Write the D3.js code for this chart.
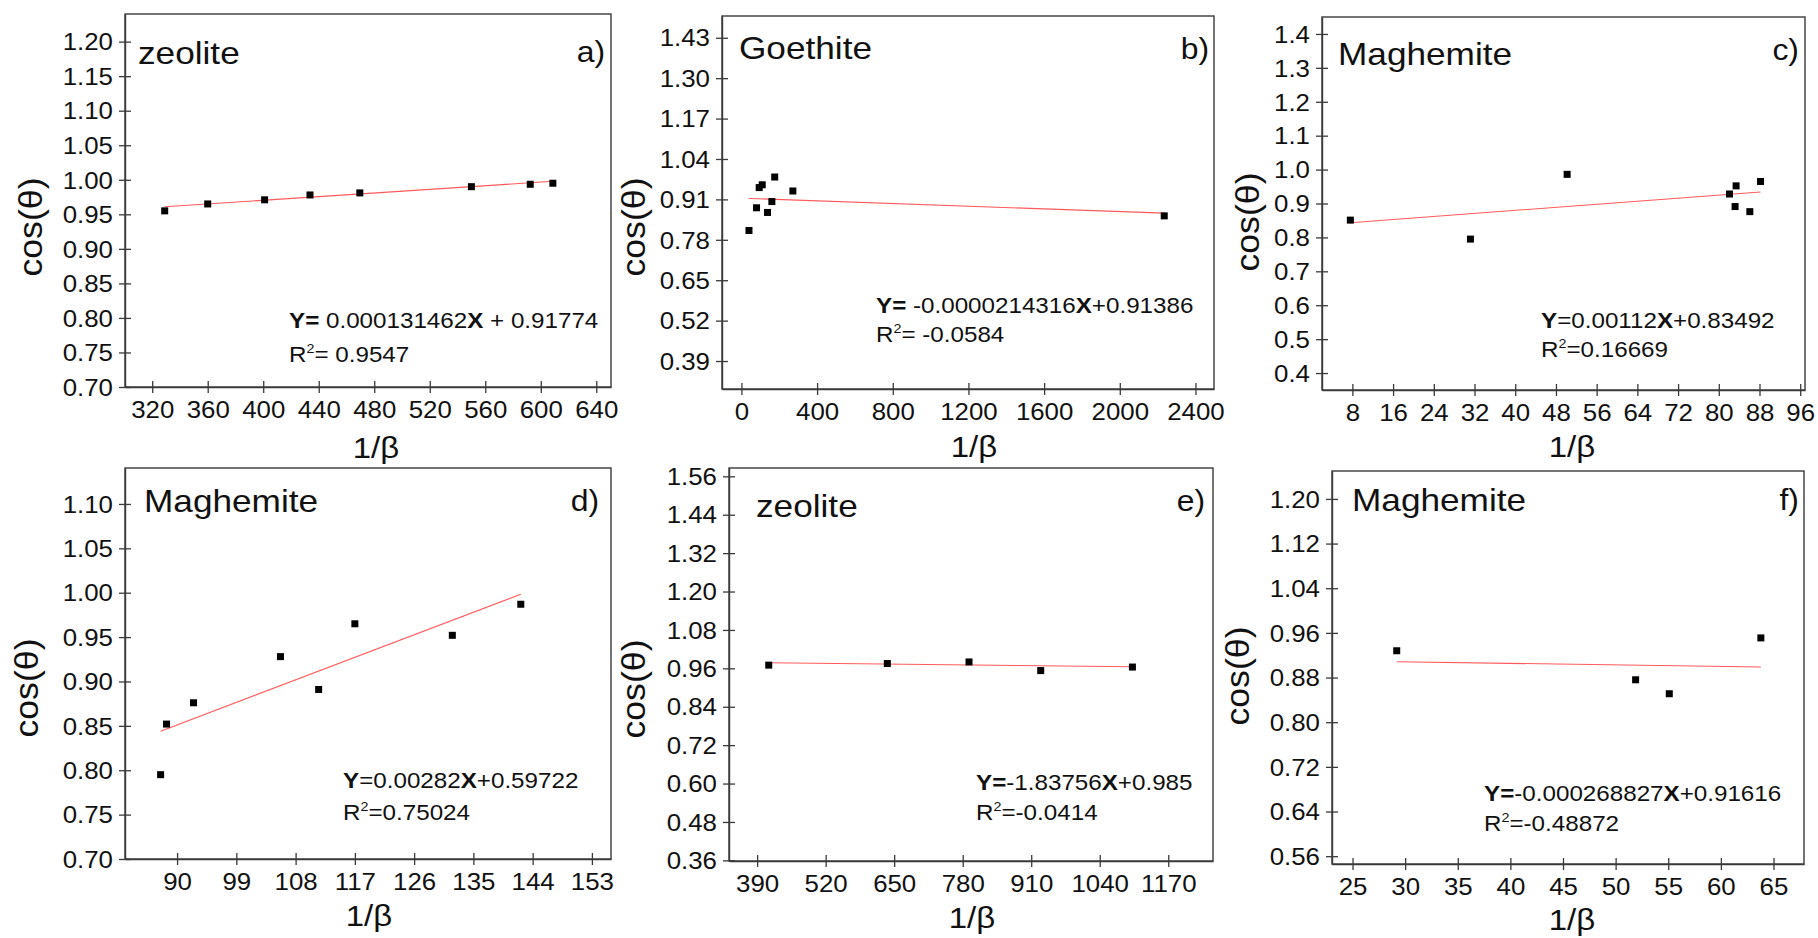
<!DOCTYPE html>
<html><head><meta charset="utf-8">
<script src="https://cdn.jsdelivr.net/npm/d3@7"></script>
<style>
body{margin:0;background:#fff;}
svg{display:block;background:#fff;}
</style>
</head><body>
<svg id="chart" width="1818" height="938"></svg>
<script>
// ---------------- DATA ----------------
const panelTags = ["a)", "b)", "c)", "d)", "e)", "f)"];
const materials = ["zeolite", "Goethite", "Maghemite", "Maghemite", "zeolite", "Maghemite"];

const xA = [329, 360, 401, 433.7, 469.6, 550, 592.4, 608.7];
const yA = [0.955, 0.965, 0.971, 0.978, 0.981, 0.990, 0.9935, 0.995];

const xB = [40, 80, 94, 110, 138, 161, 176, 272, 2235];
const yB = [0.810, 0.883, 0.948, 0.957, 0.868, 0.903, 0.982, 0.937, 0.857];

const xC = [7.6, 31.2, 50.2, 82.1, 83.4, 83.2, 86.1, 88.2];
const yC = [0.851, 0.795, 0.986, 0.928, 0.952, 0.891, 0.876, 0.965];

const xD = [87.5, 88.4, 92.5, 105.7, 111.5, 117.0, 131.8, 142.2];
const yD = [0.795, 0.852, 0.876, 0.928, 0.891, 0.965, 0.952, 0.987];

const xE = [412, 637, 792, 928, 1102];
const yE = [0.970, 0.975, 0.980, 0.953, 0.964];

const xF = [29.2, 51.9, 55.1, 63.8];
const yF = [0.928, 0.876, 0.851, 0.951];

// linear fits (slope, intercept)
const fitSlope = [0.000131462, -0.0000214316, 0.00112, 0.00282, -0.0000183756, -0.000268827];
const fitIntercept = [0.91774, 0.91386, 0.83492, 0.59722, 0.985, 0.91616];

// equation text segments: [text, bold]
const eqSegments = [
  [["Y=", true], [" 0.000131462", false], ["X", true], [" + 0.91774", false]],
  [["Y=", true], [" -0.0000214316", false], ["X", true], ["+0.91386", false]],
  [["Y", true], ["=0.00112", false], ["X", true], ["+0.83492", false]],
  [["Y", true], ["=0.00282", false], ["X", true], ["+0.59722", false]],
  [["Y=", true], ["-1.83756", false], ["X", true], ["+0.985", false]],
  [["Y=", true], ["-0.000268827", false], ["X", true], ["+0.91616", false]]
];
const r2Values = ["= 0.9547", "= -0.0584", "=0.16669", "=0.75024", "=-0.0414", "=-0.48872"];

// tick labels
const yTicksA = [0.70, 0.75, 0.80, 0.85, 0.90, 0.95, 1.00, 1.05, 1.10, 1.15, 1.20];
const yTicksB = [0.39, 0.52, 0.65, 0.78, 0.91, 1.04, 1.17, 1.30, 1.43];
const yTicksC = [0.4, 0.5, 0.6, 0.7, 0.8, 0.9, 1.0, 1.1, 1.2, 1.3, 1.4];
const yTicksD = [0.70, 0.75, 0.80, 0.85, 0.90, 0.95, 1.00, 1.05, 1.10];
const yTicksE = [0.36, 0.48, 0.60, 0.72, 0.84, 0.96, 1.08, 1.20, 1.32, 1.44, 1.56];
const yTicksF = [0.56, 0.64, 0.72, 0.80, 0.88, 0.96, 1.04, 1.12, 1.20];

const xTicksA = [320, 360, 400, 440, 480, 520, 560, 600, 640];
const xTicksB = [0, 400, 800, 1200, 1600, 2000, 2400];
const xTicksC = [8, 16, 24, 32, 40, 48, 56, 64, 72, 80, 88, 96];
const xTicksD = [90, 99, 108, 117, 126, 135, 144, 153];
const xTicksE = [390, 520, 650, 780, 910, 1040, 1170];
const xTicksF = [25, 30, 35, 40, 45, 50, 55, 60, 65];

const yTitle = "cos(\u03B8)";
const xTitle = "1/\u03B2";

// ---------------- LAYOUT ----------------
const FONT = '"Liberation Sans", Arial, Helvetica, sans-serif';
const STRETCH = 1.1;
const layout = [
  {l:125, r:611, t:14, b:387, xd:[300.4, 650.6], yd:[0.70, 1.24], yf:".2f",
   name:[138,64], tag:[605,62], eq:[289,328], r2:[289,362], yt:[42,227], xt:[376,458]},
  {l:722, r:1214, t:16, b:389, xd:[-102.6, 2498], yd:[0.30, 1.50], yf:".2f",
   name:[739,59], tag:[1209,59], eq:[876,313], r2:[876,342], yt:[645,227], xt:[974,457]},
  {l:1322, r:1805, t:17, b:390, xd:[2.03, 96.94], yd:[0.35, 1.45], yf:".1f",
   name:[1338,65], tag:[1799,60], eq:[1541,328], r2:[1541,357], yt:[1259,222], xt:[1572,457]},
  {l:125, r:611, t:468, b:859, xd:[82.09, 155.9], yd:[0.70, 1.1405], yf:".2f",
   name:[144,512], tag:[599,511], eq:[343,788], r2:[343,820], yt:[38,688], xt:[369,926]},
  {l:729, r:1213, t:468, b:861, xd:[336.6, 1254.9], yd:[0.358, 1.586], yf:".2f",
   name:[756,517], tag:[1205,511], eq:[976,790], r2:[976,820], yt:[645,689], xt:[972,928]},
  {l:1332, r:1804, t:471, b:864, xd:[23.05, 67.9], yd:[0.546, 1.25], yf:".2f",
   name:[1352,511], tag:[1799,510], eq:[1484,801], r2:[1484,831], yt:[1249,676], xt:[1572,930]}
];

const xs = [xA, xB, xC, xD, xE, xF];
const ys = [yA, yB, yC, yD, yE, yF];
const yTicks = [yTicksA, yTicksB, yTicksC, yTicksD, yTicksE, yTicksF];
const xTicks = [xTicksA, xTicksB, xTicksC, xTicksD, xTicksE, xTicksF];

// ---------------- DRAW ----------------
const svg = d3.select("#chart");
const AXIS_COLOR = "#3a3a3a";

function stretchedText(g, x, y, str, size, anchor) {
  return g.append("text")
    .attr("transform", `translate(${x},${y}) scale(${STRETCH},1)`)
    .attr("text-anchor", anchor || "start")
    .attr("font-family", FONT)
    .attr("font-size", size)
    .attr("fill", "#111")
    .text(str);
}

layout.forEach((L, i) => {
  const g = svg.append("g");
  const x = d3.scaleLinear().domain(L.xd).range([L.l, L.r]);
  const y = d3.scaleLinear().domain(L.yd).range([L.b, L.t]);

  // frame
  g.append("rect")
    .attr("x", L.l).attr("y", L.t)
    .attr("width", L.r - L.l).attr("height", L.b - L.t)
    .attr("fill", "none").attr("stroke", AXIS_COLOR).attr("stroke-width", 1.4);

  // y axis
  const fmt = d3.format(L.yf);
  const ya = g.append("g").attr("transform", `translate(${L.l},0)`)
    .call(d3.axisLeft(y).tickValues(yTicks[i]).tickFormat(fmt).tickSizeInner(6).tickSizeOuter(0).tickPadding(6));
  ya.attr("font-family", FONT).attr("font-size", 23.5);
  ya.select(".domain").attr("stroke", AXIS_COLOR).attr("stroke-width", 1.4);
  ya.selectAll(".tick line").attr("x1", 6).attr("stroke", AXIS_COLOR).attr("stroke-width", 1.3);
  ya.selectAll(".tick text").attr("x", 0).attr("dy", "0.35em")
    .attr("fill", "#111")
    .attr("transform", `translate(-12,0) scale(${STRETCH},1)`);

  // x axis
  const xa = g.append("g").attr("transform", `translate(0,${L.b})`)
    .call(d3.axisBottom(x).tickValues(xTicks[i]).tickFormat(d3.format("d")).tickSizeInner(6).tickSizeOuter(0).tickPadding(6));
  xa.attr("font-family", FONT).attr("font-size", 23.5);
  xa.select(".domain").attr("stroke", AXIS_COLOR).attr("stroke-width", 1.4);
  xa.selectAll(".tick line").attr("y1", -6).attr("stroke", AXIS_COLOR).attr("stroke-width", 1.3);
  xa.selectAll(".tick text").attr("y", 0).attr("dy", null)
    .attr("fill", "#111")
    .attr("transform", `translate(0,31) scale(${STRETCH},1)`);

  // fit line
  const xv = xs[i];
  const x0 = d3.min(xv), x1 = d3.max(xv);
  const line = d3.line().x(d => x(d)).y(d => y(fitSlope[i] * d + fitIntercept[i]));
  g.append("path").datum([x0, x1]).attr("d", line)
    .attr("fill", "none").attr("stroke", "#ff5a5a").attr("stroke-width", 1.1);

  // points
  const pts = xv.map((v, k) => [v, ys[i][k]]);
  g.selectAll("rect.pt").data(pts).enter().append("rect")
    .attr("class", "pt")
    .attr("x", d => x(d[0]) - 3.5).attr("y", d => y(d[1]) - 3.5)
    .attr("width", 7).attr("height", 7).attr("fill", "#000");

  // material name
  stretchedText(g, L.name[0], L.name[1], materials[i], 32, "start");
  // panel tag
  stretchedText(g, L.tag[0], L.tag[1], panelTags[i], 29, "end");

  // equation
  const eq = g.append("text")
    .attr("transform", `translate(${L.eq[0]},${L.eq[1]}) scale(${STRETCH},1)`)
    .attr("font-family", FONT).attr("font-size", 22).attr("fill", "#111");
  eqSegments[i].forEach(s => {
    eq.append("tspan").attr("font-weight", s[1] ? "bold" : "normal").text(s[0]);
  });

  // R^2
  const r2 = g.append("text")
    .attr("transform", `translate(${L.r2[0]},${L.r2[1]}) scale(${STRETCH},1)`)
    .attr("font-family", FONT).attr("font-size", 22).attr("fill", "#111");
  r2.append("tspan").text("R");
  r2.append("tspan").attr("font-size", 13).attr("dy", -9).text("2");
  r2.append("tspan").attr("dy", 9).text(r2Values[i]);

  // axis titles
  g.append("text")
    .attr("transform", `translate(${L.yt[0]},${L.yt[1]}) rotate(-90) scale(1.15,1.1)`)
    .attr("text-anchor", "middle")
    .attr("font-family", FONT).attr("font-size", 31).attr("fill", "#111")
    .text(yTitle);
  g.append("text")
    .attr("transform", `translate(${L.xt[0]},${L.xt[1]}) scale(${STRETCH},1)`)
    .attr("text-anchor", "middle")
    .attr("font-family", FONT).attr("font-size", 30).attr("fill", "#111")
    .text(xTitle);
});
</script>
</body></html>
